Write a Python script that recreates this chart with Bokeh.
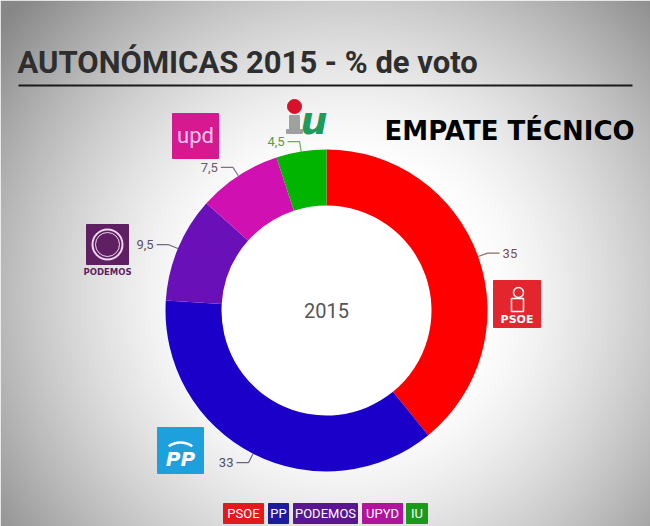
import numpy as np
from bokeh.plotting import figure
from bokeh.models import Range1d
from bokeh.core.properties import value
from bokeh.embed import file_html
from bokeh.resources import INLINE

# ---------------- data ----------------
parties = ["PSOE", "PP", "PODEMOS", "UPYD", "IU"]
votes = [35, 33, 9.5, 7.5, 4.5]
vote_labels = ["35", "33", "9,5", "7,5", "4,5"]
slice_colors = ["#fe0000", "#1a00c8", "#6a10b8", "#d010b0", "#00b400"]
label_colors = ["#7a4d4d", "#4d4d70", "#5a5068", "#6a5a6a", "#5a9a4a"]
legend_labels = ["PSOE", "PP", "PODEMOS", "UPYD", "IU"]
legend_colors = ["#e21a1a", "#1c1c9a", "#5a1690", "#b0139c", "#1a9a1a"]
title_text = "AUTONÓMICAS 2015 - % de voto"
subtitle_text = "EMPATE TÉCNICO"
center_text = "2015"

# ---------------- layout ----------------
W, H = 650, 526
FONT = "Roboto"


def X(xr):
    return xr


def Y(yr):
    return H - yr


p = figure(width=W, height=H, output_backend="svg", toolbar_location=None,
           x_range=Range1d(0, W), y_range=Range1d(0, H),
           x_axis_location=None, y_axis_location=None, min_border=0)
p.grid.visible = False
p.outline_line_color = None
p.background_fill_color = "white"
p.border_fill_color = "white"

# vignette background (decorative)
yy, xx = np.mgrid[0:H, 0:W]
dx = (xx - 345) / 330.0
dy = (yy - 230) / 290.0
d = np.sqrt(dx ** 2 + (0.9 * dy) ** 2) / np.sqrt(1 + 0.9 ** 2)
v = 255 - 120 * np.clip((d - 0.3) / 0.7, 0, 1) ** 1.4
img = np.empty((H, W), dtype=np.uint32)
view = img.view(dtype=np.uint8).reshape((H, W, 4))
view[..., 0] = v
view[..., 1] = v
view[..., 2] = v
view[..., 3] = 255
p.image_rgba(image=[img], x=0, y=0, dw=W, dh=H)

# title
p.text(x=[X(17)], y=[Y(62)], text=[title_text], text_font=value(FONT),
       text_font_style="bold", text_font_size="31px", text_color="#2e2e2e",
       text_baseline="middle", text_align="left")
p.segment(x0=[X(18)], y0=[Y(85)], x1=[X(632)], y1=[Y(85)], line_color="#1a1a1a", line_width=2)

p.text(x=[X(384)], y=[Y(130)], text=[subtitle_text], text_font=value("DejaVu Sans"),
       text_font_style="bold", text_font_size="26px", text_color="#000000",
       text_baseline="middle", text_align="left")

# donut
cx, cy = 326, 310
R_out, R_in = 161, 105
vals = np.array(votes, dtype=float)
frac = vals / vals.sum()
ends = np.cumsum(frac) * 2 * np.pi
starts = ends - frac * 2 * np.pi
p.annular_wedge(x=X(cx), y=Y(cy), inner_radius=R_in, outer_radius=R_out,
                start_angle=np.pi / 2 - ends, end_angle=np.pi / 2 - starts,
                color=slice_colors, line_color=None)

p.text(x=[X(cx)], y=[Y(cy)], text=[center_text], text_font=value(FONT),
       text_font_size="20px", text_color="#555555", text_align="center",
       text_baseline="middle")

# value labels with leader lines
mids = (starts + ends) / 2
for i, th in enumerate(mids):
    ex, ey = cx + R_out * np.sin(th), cy - R_out * np.cos(th)
    bx, by = cx + (R_out + 10) * np.sin(th), cy - (R_out + 10) * np.cos(th)
    side = 1 if np.sin(th) > 0 else -1
    fx = bx + side * 12
    p.line(x=[X(ex), X(bx), X(fx)], y=[Y(ey), Y(by), Y(by)], line_color=label_colors[i],
           line_width=1.2, line_alpha=0.85)
    p.text(x=[X(fx + side * 3)], y=[Y(by)], text=[vote_labels[i]], text_font=value(FONT),
           text_font_size="13px", text_color=label_colors[i],
           text_align="left" if side > 0 else "right", text_baseline="middle")

# ---------------- logos (decorative) ----------------
# PSOE
p.quad(left=[X(493)], right=[X(540)], top=[Y(280)], bottom=[Y(327)], color="#e3262e")
p.circle(x=[X(518)], y=[Y(292)], radius=5, fill_color=None, line_color="white", line_width=1.5)
p.quad(left=[X(511)], right=[X(523)], top=[Y(298)], bottom=[Y(311)], fill_color=None,
       line_color="white", line_width=1.5)
p.text(x=[X(516.5)], y=[Y(319)], text=["PSOE"], text_font=value("DejaVu Sans"),
       text_font_style="bold", text_font_size="11px", text_color="white",
       text_align="center", text_baseline="middle")

# PP
p.quad(left=[X(157)], right=[X(203)], top=[Y(427)], bottom=[Y(473)], color="#1ea0dc")
p.arc(x=[X(180)], y=[Y(462)], radius=20, start_angle=np.pi * 0.3, end_angle=np.pi * 0.7,
      line_color="white", line_width=2.5)
p.text(x=[X(180)], y=[Y(458)], text=["PP"], text_font=value("DejaVu Sans"),
       text_font_style="bold italic", text_font_size="20px", text_color="white",
       text_align="center", text_baseline="middle")

# PODEMOS
p.quad(left=[X(86)], right=[X(128)], top=[Y(224)], bottom=[Y(264)], color="#5e1f63")
p.circle(x=[X(107)], y=[Y(244)], radius=15, fill_color=None, line_color="#f0d8f0", line_width=2)
p.circle(x=[X(107)], y=[Y(244)], radius=12, fill_color=None, line_color="#f0d8f0", line_width=1)
p.text(x=[X(107)], y=[Y(271)], text=["PODEMOS"], text_font=value("DejaVu Sans"),
       text_font_style="bold", text_font_size="8.5px", text_color="#5e1f63",
       text_align="center", text_baseline="middle")

# UPYD
p.quad(left=[X(172)], right=[X(218)], top=[Y(113)], bottom=[Y(158)], color="#d6198f")
p.text(x=[X(195)], y=[Y(135)], text=["upd"], text_font=value(FONT),
       text_font_size="22px", text_color="#f8c8ec", text_align="center",
       text_baseline="middle")

# IU
p.circle(x=[X(294)], y=[Y(106)], radius=7, color="#d8102a")
p.quad(left=[X(289)], right=[X(299)], top=[Y(115)], bottom=[Y(133)], color="#a0a0a0")
p.quad(left=[X(286)], right=[X(302)], top=[Y(129)], bottom=[Y(133)], color="#a0a0a0")
p.text(x=[X(300)], y=[Y(120)], text=["u"], text_font=value("DejaVu Sans"),
       text_font_style="bold italic", text_font_size="38px", text_color="#1e9a5a",
       text_align="left", text_baseline="middle")

# ---------------- legend ----------------
leg_left = [223, 268, 293, 362, 406]
leg_right = [263, 288, 357, 402, 427]
leg_top, leg_bot = 503, 523
p.quad(left=[X(a) for a in leg_left], right=[X(b) for b in leg_right],
       top=Y(leg_top), bottom=Y(leg_bot), color=legend_colors)
p.text(x=[X((a + b) / 2) for a, b in zip(leg_left, leg_right)], y=Y((leg_top + leg_bot) / 2),
       text=legend_labels, text_font=value(FONT), text_font_size="13px",
       text_color="white", text_align="center", text_baseline="middle")

open("out.html", "w").write(file_html(p, INLINE))
